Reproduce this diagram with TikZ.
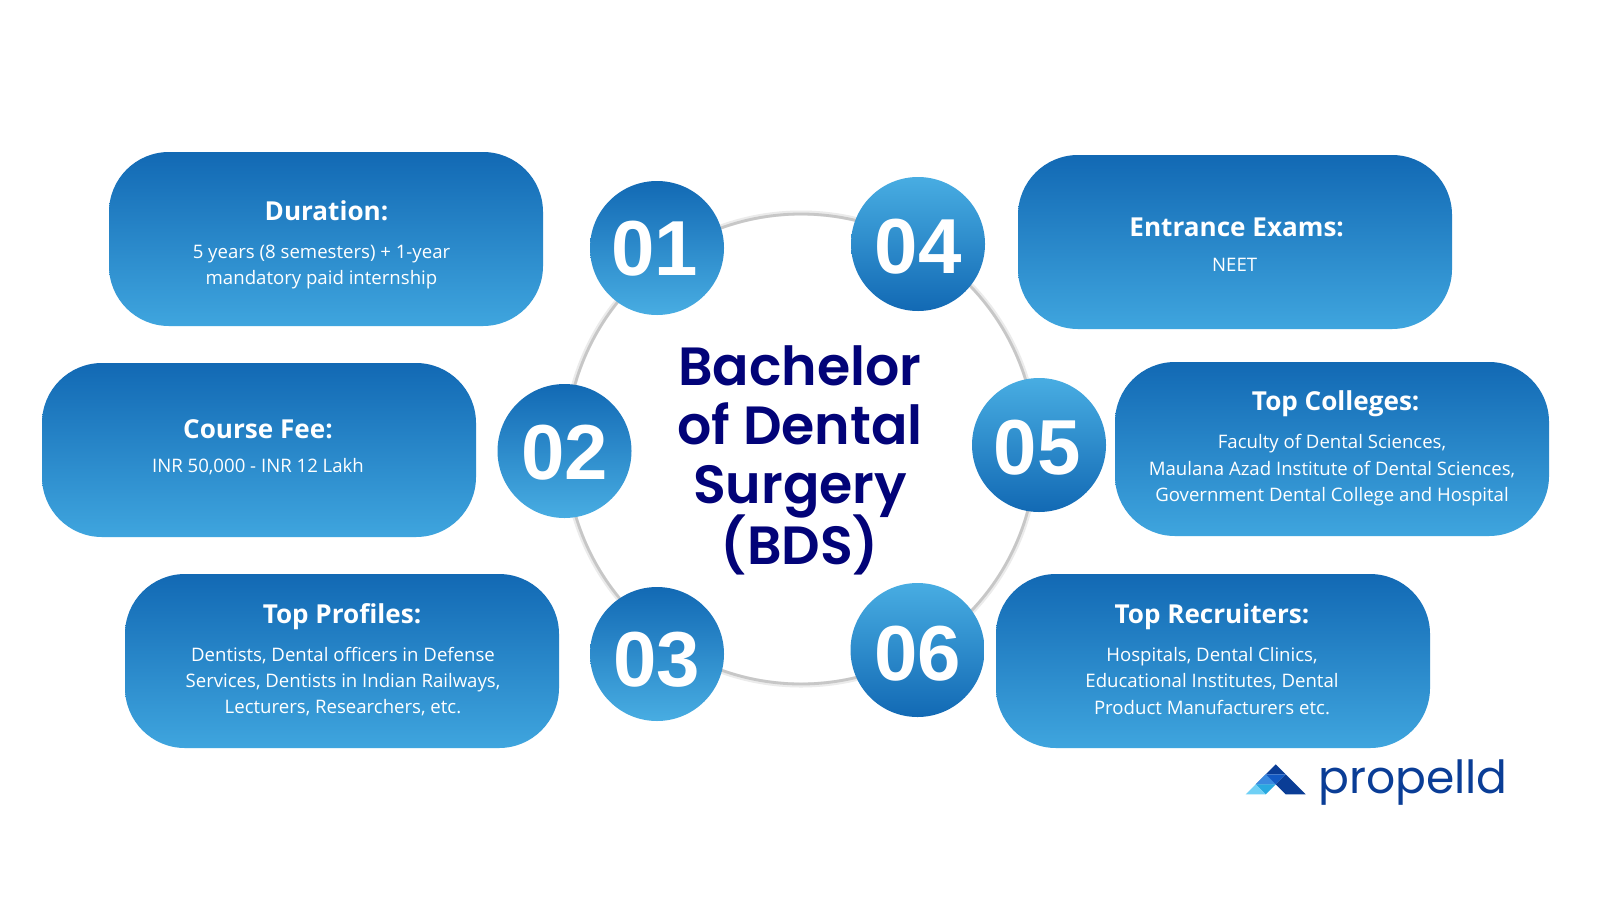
\documentclass[tikz,border=0pt]{standalone}
\usepackage{fontspec}
\setmainfont{Open Sans}
\newfontfamily\titlefont{Poppins SemiBold}
\newfontfamily\logofont{Poppins}
\newfontfamily\numfont{Liberation Sans}
\definecolor{gdark}{HTML}{1269B4}
\definecolor{glight}{HTML}{48ADE2}
\definecolor{boxlight}{HTML}{3FA5DE}
\definecolor{navy}{HTML}{020378}
\definecolor{logoa}{HTML}{0A3D96}
\definecolor{logob}{HTML}{1259C3}
\definecolor{logoc}{HTML}{3A8AE0}
\definecolor{logod}{HTML}{29A9E0}
\definecolor{logoe}{HTML}{70D0F5}
\newcommand{\lowered}[2]{\raisebox{-#1pt}[0pt][0pt]{#2}}
\tikzset{
  pillbox/.style={minimum width=217pt,minimum height=87pt,rounded corners=30pt,top color=gdark,bottom color=boxlight,draw=none,inner sep=0pt},
  downdisc/.style={circle,minimum size=67pt,inner sep=0pt,top color=gdark,bottom color=glight,draw=none,text=white,font=\numfont\bfseries\fontsize{39}{39}\selectfont},
  updisc/.style={downdisc,top color=glight,bottom color=gdark},
  headtext/.style={text=white,font=\fontsize{13.05}{16}\selectfont\bfseries,anchor=center},
  bodytext/.style={text=white,font=\fontsize{9.3}{13.2}\selectfont,align=center,anchor=center},
  titletext/.style={text=navy,font=\titlefont\fontsize{26.9}{29.4}\selectfont,align=center},
}
\begin{document}
\begin{tikzpicture}[x=0.5pt,y=-0.5pt]
\useasboundingbox (0,0) rectangle (1600,900);
\fill[white] (0,0) rectangle (1600,900);
% ring
\coordinate (ringc) at (801,449);
\draw[line width=2.5pt,black!8] (ringc) circle[radius=236];
\draw[line width=1.4pt,black!22] (ringc) circle[radius=235];
% boxes
\node[pillbox] (b1) at (326,239) {};
\node[pillbox] (b2) at (259,450) {};
\node[pillbox] (b3) at (342,661) {};
\node[pillbox] (b4) at (1235,242) {};
\node[pillbox] (b5) at (1332,449) {};
\node[pillbox] (b6) at (1213,661) {};
% discs
\node[downdisc] (c1) at (657,248) {\hspace*{-2pt}\lowered{13.75}{01}};
\node[downdisc] (c2) at (564.5,451) {\lowered{14.4}{02}};
\node[downdisc] (c3) at (657,654) {\lowered{16}{03}};
\node[updisc] (c4) at (918,244) {\lowered{14.9}{04}};
\node[updisc] (c5) at (1039,445) {\hspace*{-2pt}\lowered{14.5}{05}};
\node[updisc] (c6) at (917.5,650) {\lowered{15}{06}};
% centre
\node[titletext] (title) at (800,460.5) {Bachelor\\of Dental\\Surgery\\[-2.5pt](BDS)};
% box text
\node[headtext] (h1) at (326.5,211) {Duration:};
\node[bodytext] (t1) at (321.5,267) {5 years (8 semesters) + 1-year\\mandatory paid internship};
\node[headtext] (h2) at (258,429.6) {Course Fee:};
\node[bodytext] (t2) at (258,467) {INR 50,000 - INR 12 Lakh};
\node[headtext] (h3) at (342,617) {Top Profiles:};
\node[bodytext] (t3) at (343,681.5) {Dentists, Dental officers in Defense\\Services, Dentists in Indian Railways,\\Lecturers, Researchers, etc.};
\node[headtext] (h4) at (1236.7,227.5) {Entrance Exams:};
\node[bodytext] (t4) at (1234.7,265) {NEET};
\node[headtext] (h5) at (1335.7,404) {Top Colleges:};
\node[bodytext] (t5) at (1332,470.5) {Faculty of Dental Sciences,\\Maulana Azad Institute of Dental Sciences,\\Government Dental College and Hospital};
\node[headtext] (h6) at (1212,617) {Top Recruiters:};
\node[bodytext] (t6) at (1212,681) {Hospitals, Dental Clinics,\\Educational Institutes, Dental\\Product Manufacturers etc.};
% logo
\fill[logoa] (1275.7,764.3) -- (1265.7,774.3) -- (1285.7,774.3) -- cycle;
\fill[logob] (1265.7,774.3) -- (1285.7,774.3) -- (1275.7,784.3) -- (1255.7,784.3) -- cycle;
\fill[logoc] (1255.7,784.3) -- (1265.7,774.3) -- (1275.7,784.3) -- cycle;
\fill[logod] (1255.7,784.3) -- (1275.7,784.3) -- (1265.7,794.3) -- cycle;
\fill[logoe] (1245.7,794.3) -- (1255.7,784.3) -- (1265.7,794.3) -- cycle;
\fill[logoa] (1285.7,774.3) -- (1305.7,794.3) -- (1285.7,794.3) -- (1275.7,784.3) -- cycle;
\node[anchor=base west,inner sep=0pt,text=logoa,font=\logofont\fontsize{22.8}{25}\selectfont] (logo) at (1318,793) {propelld};
\end{tikzpicture}
\end{document}
